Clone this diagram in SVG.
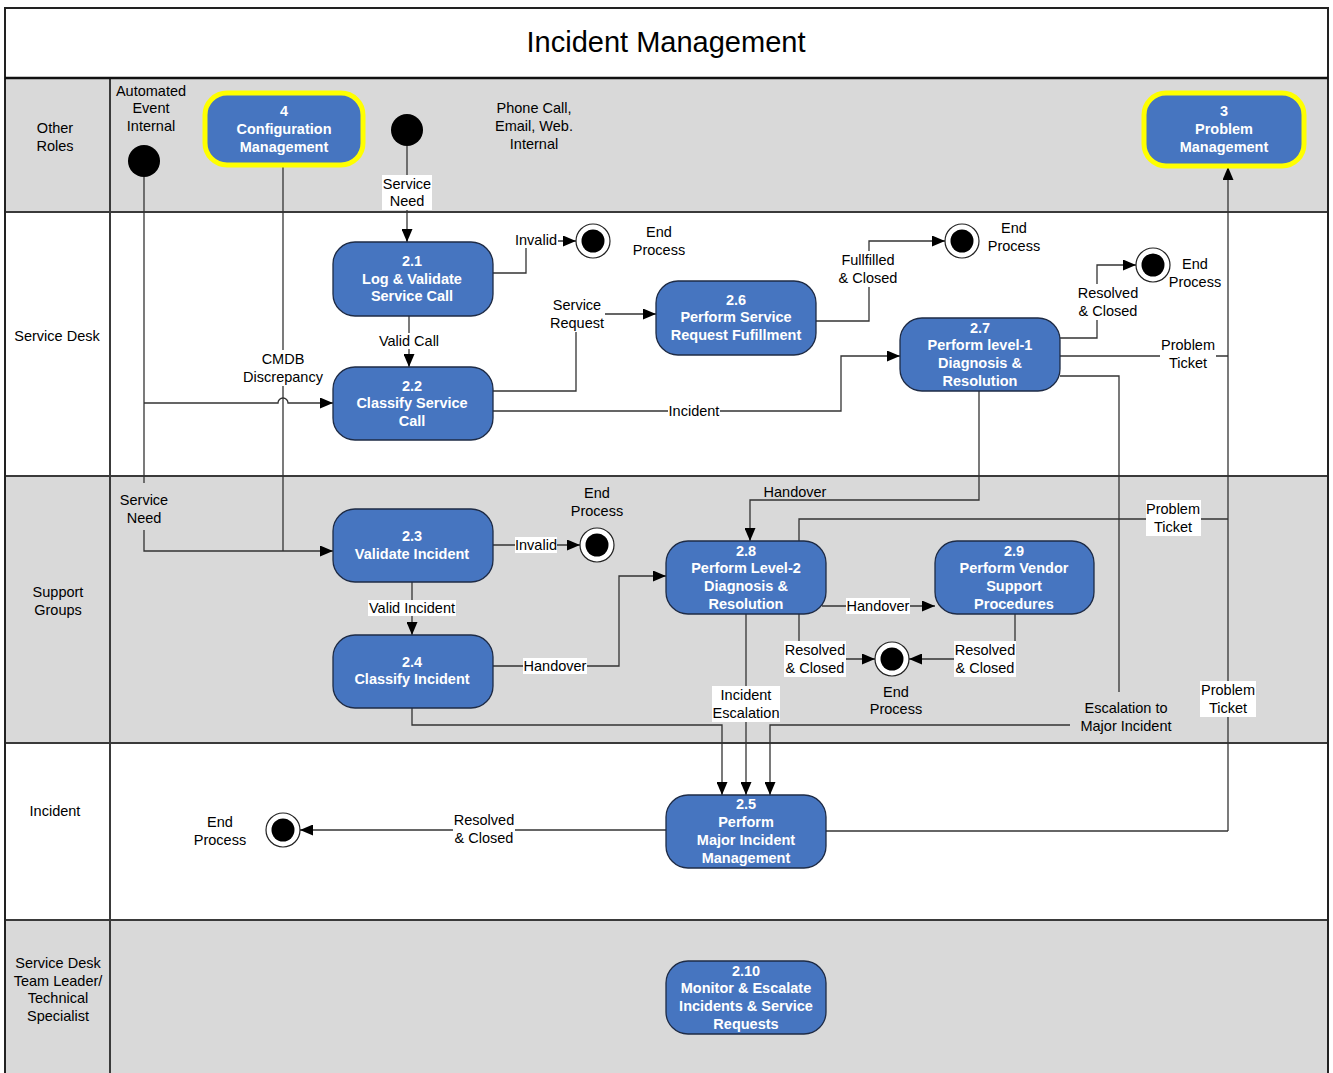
<svg xmlns="http://www.w3.org/2000/svg" width="1333" height="1073" viewBox="0 0 1333 1073">
<style>
.lane-g{fill:#d9d9d9}
.lane-w{fill:#ffffff}
.div{stroke:#3a3a3a;stroke-width:2;fill:none}
.lt{font-family:"Liberation Sans",Arial,sans-serif;font-size:14.5px;fill:#000;text-anchor:middle}
.nt{font-family:"Liberation Sans",Arial,sans-serif;font-size:14.5px;font-weight:bold;fill:#fff;text-anchor:middle}
.node{fill:#4675c0;stroke:#1e2b45;stroke-width:1.3}
.hl{fill:#4675c0;stroke:#ffff00;stroke-width:5}
.c{fill:none;stroke:#333;stroke-width:1.3}
.bg{fill:#fff}
.start{fill:#000}
.endo{fill:#fff;stroke:#222;stroke-width:1.2}
.endi{fill:#000}
</style>
<defs>
<marker id="ar" markerUnits="userSpaceOnUse" markerWidth="13" markerHeight="11" refX="13" refY="5.5" orient="auto">
<path d="M0,0 L13,5.5 L0,11 z" fill="#000"/>
</marker>
</defs>

<g id="lanes">
<rect x="5" y="8" width="1323" height="70" fill="#fff"/>
<rect class="lane-g" x="5" y="78" width="1323" height="134"/>
<rect class="lane-w" x="5" y="212" width="1323" height="264"/>
<rect class="lane-g" x="5" y="476" width="1323" height="267"/>
<rect class="lane-w" x="5" y="743" width="1323" height="177"/>
<rect class="lane-g" x="5" y="920" width="1323" height="153"/>
<path class="div" d="M5,212 H1328 M5,476 H1328 M5,743 H1328 M5,920 H1328 M110,78 V1073"/>
<rect x="5" y="8" width="1323" height="1070" fill="none" stroke="#222" stroke-width="2"/>
<line x1="5" y1="78" x2="1328" y2="78" stroke="#111" stroke-width="2.5"/>
<text x="666" y="52" style="font-family:'Liberation Sans',Arial,sans-serif;font-size:29px;text-anchor:middle">Incident Management</text>
<text class="lt" x="55" y="133">Other</text>
<text class="lt" x="55" y="151">Roles</text>
<text class="lt" x="57" y="341">Service Desk</text>
<text class="lt" x="58" y="597">Support</text>
<text class="lt" x="58" y="615">Groups</text>
<text class="lt" x="55" y="816">Incident</text>
<text class="lt" x="58" y="968">Service Desk</text>
<text class="lt" x="58" y="986">Team Leader/</text>
<text class="lt" x="58" y="1003">Technical</text>
<text class="lt" x="58" y="1021">Specialist</text>
</g>

<g id="connectors">
<path class="c" d="M407,146 V242" marker-end="url(#ar)"/>
<path class="c" d="M493,273 H526 V241 H576" marker-end="url(#ar)"/>
<path class="c" d="M409,316 V367" marker-end="url(#ar)"/>
<path class="c" d="M493,391 H576 V314 H656" marker-end="url(#ar)"/>
<path class="c" d="M493,411 H841 V356 H900" marker-end="url(#ar)"/>
<path class="c" d="M816,321 H869 V241 H945" marker-end="url(#ar)"/>
<path class="c" d="M1060,338 H1097 V265 H1136" marker-end="url(#ar)"/>
<path class="c" d="M1060,356 H1228"/>
<path class="c" d="M1060,376 H1119 V692"/>
<path class="c" d="M1070,725 H770 V795" marker-end="url(#ar)"/>
<path class="c" d="M979,391 V500 H750 V541" marker-end="url(#ar)"/>
<path class="c" d="M799,541 V519 H1228"/>
<path class="c" d="M1228,831 V167" marker-end="url(#ar)"/>
<path class="c" d="M826,831 H1228"/>
<path class="c" d="M666,830 H300" marker-end="url(#ar)"/>
<path class="c" d="M412,582 V635" marker-end="url(#ar)"/>
<path class="c" d="M493,545 H580" marker-end="url(#ar)"/>
<path class="c" d="M493,666 H619 V576 H666" marker-end="url(#ar)"/>
<path class="c" d="M822,606 H935" marker-end="url(#ar)"/>
<path class="c" d="M799,614 V659 H875" marker-end="url(#ar)"/>
<path class="c" d="M1015,614 V659 H909" marker-end="url(#ar)"/>
<path class="c" d="M746,614 V795" marker-end="url(#ar)"/>
<path class="c" d="M412,708 V725 H722 V795" marker-end="url(#ar)"/>
<path class="c" d="M144,177 V483"/>
<path class="c" d="M144,530 V551 H333" marker-end="url(#ar)"/>
<path class="c" d="M144,403 H278 A5,5 0 0 1 288,403 H333" marker-end="url(#ar)"/>
<path class="c" d="M283,165 V551"/>

<rect class="bg" x="382" y="175" width="50" height="35"/>
<text class="lt" x="407" y="189">Service</text>
<text class="lt" x="407" y="206">Need</text>
<rect class="bg" x="514" y="232" width="44" height="16"/>
<text class="lt" x="536" y="245">Invalid</text>
<rect class="bg" x="378" y="333" width="62" height="16"/>
<text class="lt" x="409" y="346">Valid Call</text>
<rect class="bg" x="549" y="296" width="56" height="36"/>
<text class="lt" x="577" y="310">Service</text>
<text class="lt" x="577" y="328">Request</text>
<rect class="bg" x="668" y="403" width="52" height="16"/>
<text class="lt" x="694" y="416">Incident</text>
<rect class="bg" x="838" y="251" width="60" height="36"/>
<text class="lt" x="868" y="265">Fullfilled</text>
<text class="lt" x="868" y="283">&amp; Closed</text>
<rect class="bg" x="1077" y="284" width="62" height="36"/>
<text class="lt" x="1108" y="298">Resolved</text>
<text class="lt" x="1108" y="316">&amp; Closed</text>
<rect class="bg" x="1160" y="336" width="56" height="36"/>
<text class="lt" x="1188" y="350">Problem</text>
<text class="lt" x="1188" y="368">Ticket</text>
<rect class="bg" x="243" y="350" width="80" height="36"/>
<text class="lt" x="283" y="364">CMDB</text>
<text class="lt" x="283" y="382">Discrepancy</text>
<text class="lt" x="144" y="505">Service</text>
<text class="lt" x="144" y="523">Need</text>
<rect class="bg" x="515" y="537" width="42" height="16"/>
<text class="lt" x="536" y="550">Invalid</text>
<rect class="bg" x="368" y="600" width="88" height="16"/>
<text class="lt" x="412" y="613">Valid Incident</text>
<rect class="bg" x="523" y="658" width="64" height="16"/>
<text class="lt" x="555" y="671">Handover</text>
<text class="lt" x="795" y="497">Handover</text>
<rect class="bg" x="1146" y="500" width="55" height="36"/>
<text class="lt" x="1173" y="514">Problem</text>
<text class="lt" x="1173" y="532">Ticket</text>
<rect class="bg" x="846" y="598" width="64" height="16"/>
<text class="lt" x="878" y="611">Handover</text>
<rect class="bg" x="784" y="641" width="62" height="36"/>
<text class="lt" x="815" y="655">Resolved</text>
<text class="lt" x="815" y="673">&amp; Closed</text>
<rect class="bg" x="954" y="641" width="62" height="36"/>
<text class="lt" x="985" y="655">Resolved</text>
<text class="lt" x="985" y="673">&amp; Closed</text>
<rect class="bg" x="712" y="686" width="68" height="36"/>
<text class="lt" x="746" y="700">Incident</text>
<text class="lt" x="746" y="718">Escalation</text>
<text class="lt" x="1126" y="713">Escalation to</text>
<text class="lt" x="1126" y="731">Major Incident</text>
<rect class="bg" x="1200" y="681" width="56" height="36"/>
<text class="lt" x="1228" y="695">Problem</text>
<text class="lt" x="1228" y="713">Ticket</text>
<rect class="bg" x="453" y="811" width="62" height="36"/>
<text class="lt" x="484" y="825">Resolved</text>
<text class="lt" x="484" y="843">&amp; Closed</text>
</g>

<g id="annotations">
<text class="lt" x="151" y="96">Automated</text>
<text class="lt" x="151" y="113">Event</text>
<text class="lt" x="151" y="131">Internal</text>
<text class="lt" x="534" y="113">Phone Call,</text>
<text class="lt" x="534" y="131">Email, Web.</text>
<text class="lt" x="534" y="149">Internal</text>
<text class="lt" x="659" y="237">End</text>
<text class="lt" x="659" y="255">Process</text>
<text class="lt" x="1014" y="233">End</text>
<text class="lt" x="1014" y="251">Process</text>
<text class="lt" x="1195" y="269">End</text>
<text class="lt" x="1195" y="287">Process</text>
<text class="lt" x="597" y="498">End</text>
<text class="lt" x="597" y="516">Process</text>
<text class="lt" x="896" y="697">End</text>
<text class="lt" x="896" y="714">Process</text>
<text class="lt" x="220" y="827">End</text>
<text class="lt" x="220" y="845">Process</text>
</g>

<g id="start-auto"><circle class="start" cx="144" cy="161" r="16"/></g>
<g id="start-phone"><circle class="start" cx="407" cy="130" r="16"/></g>
<g id="end-1"><circle class="endo" cx="593" cy="241" r="17"/><circle class="endi" cx="593" cy="241" r="11.5"/></g>
<g id="end-2"><circle class="endo" cx="962" cy="241" r="17"/><circle class="endi" cx="962" cy="241" r="11.5"/></g>
<g id="end-3"><circle class="endo" cx="1153" cy="265" r="17"/><circle class="endi" cx="1153" cy="265" r="11.5"/></g>
<g id="end-4"><circle class="endo" cx="597" cy="545" r="17"/><circle class="endi" cx="597" cy="545" r="11.5"/></g>
<g id="end-5"><circle class="endo" cx="892" cy="659" r="17"/><circle class="endi" cx="892" cy="659" r="11.5"/></g>
<g id="end-6"><circle class="endo" cx="283" cy="830" r="17"/><circle class="endi" cx="283" cy="830" r="11.5"/></g>

<g id="n4"><rect class="hl" x="205" y="93" width="158" height="72" rx="22"/>
<text class="nt" x="284" y="116">4</text><text class="nt" x="284" y="134">Configuration</text><text class="nt" x="284" y="152">Management</text></g>
<g id="n3"><rect class="hl" x="1144" y="93" width="160" height="73" rx="22"/>
<text class="nt" x="1224" y="116">3</text><text class="nt" x="1224" y="134">Problem</text><text class="nt" x="1224" y="152">Management</text></g>
<g id="n2-1"><rect class="node" x="333" y="242" width="160" height="74" rx="22"/>
<text class="nt" x="412" y="266">2.1</text><text class="nt" x="412" y="284">Log &amp; Validate</text><text class="nt" x="412" y="301">Service Call</text></g>
<g id="n2-2"><rect class="node" x="333" y="367" width="160" height="73" rx="22"/>
<text class="nt" x="412" y="391">2.2</text><text class="nt" x="412" y="408">Classify Service</text><text class="nt" x="412" y="426">Call</text></g>
<g id="n2-6"><rect class="node" x="656" y="281" width="160" height="74" rx="22"/>
<text class="nt" x="736" y="305">2.6</text><text class="nt" x="736" y="322">Perform Service</text><text class="nt" x="736" y="340">Request Fufillment</text></g>
<g id="n2-7"><rect class="node" x="900" y="318" width="160" height="73" rx="22"/>
<text class="nt" x="980" y="333">2.7</text><text class="nt" x="980" y="350">Perform level-1</text><text class="nt" x="980" y="368">Diagnosis &amp;</text><text class="nt" x="980" y="386">Resolution</text></g>
<g id="n2-3"><rect class="node" x="333" y="509" width="160" height="73" rx="22"/>
<text class="nt" x="412" y="541">2.3</text><text class="nt" x="412" y="559">Validate Incident</text></g>
<g id="n2-4"><rect class="node" x="333" y="635" width="160" height="73" rx="22"/>
<text class="nt" x="412" y="667">2.4</text><text class="nt" x="412" y="684">Classify Incident</text></g>
<g id="n2-8"><rect class="node" x="666" y="541" width="160" height="73" rx="22"/>
<text class="nt" x="746" y="556">2.8</text><text class="nt" x="746" y="573">Perform Level-2</text><text class="nt" x="746" y="591">Diagnosis &amp;</text><text class="nt" x="746" y="609">Resolution</text></g>
<g id="n2-9"><rect class="node" x="935" y="541" width="159" height="73" rx="22"/>
<text class="nt" x="1014" y="556">2.9</text><text class="nt" x="1014" y="573">Perform Vendor</text><text class="nt" x="1014" y="591">Support</text><text class="nt" x="1014" y="609">Procedures</text></g>
<g id="n2-5"><rect class="node" x="666" y="795" width="160" height="73" rx="22"/>
<text class="nt" x="746" y="809">2.5</text><text class="nt" x="746" y="827">Perform</text><text class="nt" x="746" y="845">Major Incident</text><text class="nt" x="746" y="863">Management</text></g>
<g id="n2-10"><rect class="node" x="666" y="961" width="160" height="73" rx="22"/>
<text class="nt" x="746" y="976">2.10</text><text class="nt" x="746" y="993">Monitor &amp; Escalate</text><text class="nt" x="746" y="1011">Incidents &amp; Service</text><text class="nt" x="746" y="1029">Requests</text></g>
</svg>
